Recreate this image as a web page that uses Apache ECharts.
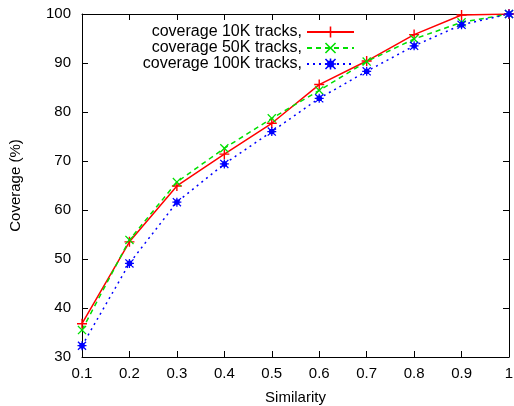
<!DOCTYPE html>
<html><head><meta charset="utf-8">
<script src="https://cdn.jsdelivr.net/npm/echarts@6/dist/echarts.min.js"></script>
<style>html,body{margin:0;padding:0;background:#fff}#c{width:514px;height:406px}</style>
</head><body><div id="c"></div>
<script>
const similarity = [0.1,0.2,0.3,0.4,0.5,0.6,0.7,0.8,0.9,1.0];
const cov10K  = [36.8,53.5,64.9,71.4,77.7,85.6,90.4,95.8,99.8,100];
const cov50K  = [35.5,53.9,65.7,72.6,78.7,84.4,90.3,94.9,98.3,100];
const cov100K = [32.3,49.1,61.6,69.4,76.0,82.8,88.3,93.5,97.8,100];
const seriesNames = ['coverage 10K tracks,','coverage 50K tracks,','coverage 100K tracks,'];

const plus = 'path://M0,4.3L10,4.3L10,5.7L0,5.7Z M4.3,0L5.7,0L5.7,10L4.3,10Z';
const cross = 'path://M0,1L1,0L5,4L9,0L10,1L6,5L10,9L9,10L5,6L1,10L0,9L4,5Z';
const star = 'path://M2,2L8,2L8,8L2,8Z M0,1L1,0L5,4L9,0L10,1L6,5L10,9L9,10L5,6L1,10L0,9L4,5Z M0,4.3L10,4.3L10,5.7L0,5.7Z M4.3,0L5.7,0L5.7,10L4.3,10Z';

const font = 'Liberation Sans';
const chart = echarts.init(document.getElementById('c'), null, {renderer:'canvas'});
function mk(name, vals, color, type, sym, size, w){
  return {name, type:'line', data: similarity.map((x,i)=>[x, vals[i]]),
    symbol: sym, symbolSize: size, showSymbol:true,
    lineStyle:{color, width:w, type},
    itemStyle:{color, borderWidth:0},
    xAxisIndex:0, yAxisIndex:0, animation:false, z: 3};
}
chart.setOption({
  animation:false,
  textStyle:{fontFamily:font},
  grid:{left:82, right:5, top:14, bottom:49, containLabel:false, outerBoundsMode:'none'},
  legend:{orient:'vertical', align:'right', right:159, top:24, itemGap:0, padding:0,
    itemWidth:47, itemHeight:14,
    textStyle:{fontFamily:font, fontSize:16, color:'#000', lineHeight:16},
    data: seriesNames},
  xAxis:[{type:'value', min:0.1, max:1, interval:0.1,
    name:'Similarity', nameLocation:'middle', nameGap:33,
    nameTextStyle:{fontFamily:font, fontSize:15, color:'#000'},
    axisLine:{lineStyle:{color:'#000', width:1}},
    axisTick:{inside:true, length:6, lineStyle:{color:'#000'}},
    axisLabel:{fontFamily:font, fontSize:15, color:'#000', margin:9,
      formatter:v=>(Math.abs(v-1)<1e-9?'1':v.toFixed(1))},
    splitLine:{show:false}},
   {type:'value', position:'top', min:0.1, max:1, interval:0.1,
    axisLine:{show:true, lineStyle:{color:'#000', width:1}},
    axisTick:{inside:true, length:6, lineStyle:{color:'#000'}},
    axisLabel:{show:false}, splitLine:{show:false}}],
  yAxis:[{type:'value', min:30, max:100, interval:10,
    name:'Coverage (%)', nameLocation:'middle', nameGap:59,
    nameTextStyle:{fontFamily:font, fontSize:15, color:'#000'},
    axisLine:{show:true, lineStyle:{color:'#000', width:1}},
    axisTick:{show:true, inside:true, length:6, lineStyle:{color:'#000'}},
    axisLabel:{fontFamily:font, fontSize:15, color:'#000', margin:11},
    splitLine:{show:false}},
   {type:'value', position:'right', min:30, max:100, interval:10,
    axisLine:{show:true, lineStyle:{color:'#000', width:1}},
    axisTick:{show:true, inside:true, length:6, lineStyle:{color:'#000'}},
    axisLabel:{show:false}, splitLine:{show:false}}],
  series:[
    mk(seriesNames[0], cov10K, '#ff0000', 'solid', plus, 10, 1.5),
    mk(seriesNames[1], cov50K, '#00e000', [5,4], cross, 9, 1.5),
    mk(seriesNames[2], cov100K, '#0000ff', [2,4], star, 9, 1.5)
  ]
});
</script></body></html>
